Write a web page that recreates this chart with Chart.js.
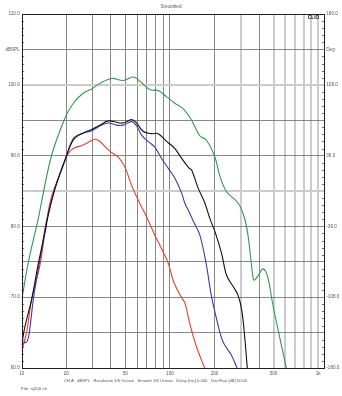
<!DOCTYPE html>
<html>
<head>
<meta charset="utf-8">
<script src="https://cdn.jsdelivr.net/npm/chart.js@4.4.1/dist/chart.umd.min.js"></script>
<style>
html,body{margin:0;padding:0;background:#fff;}
canvas{display:block;}
</style>
</head>
<body>
<canvas id="c" width="342" height="396"></canvas>
<script>
// ---- data ----
const xTickValues = [10,20,30,40,50,60,70,80,90,100,200,300,400,500,600,700,800,900,1000];
const xTickLabels = {10:'10',20:'20',50:'50',100:'100',200:'200',500:'500',1000:'1k'};
const xDarkGrid = [20,30,40,50,60,70,80,90,100,200,400];
const yTickValues = [60,65,70,75,80,85,90,95,100,105,110];
const yTickLabels = {110:'110.0',105:'dBSPL',100:'100.0',90:'90.0',80:'80.0',70:'70.0',60:'60.0'};
const yLightGrid = [100,85];
const y2TickValues = [-180,-144,-108,-72,-36,0,36,72,108,144,180];
const y2TickLabels = {180:'180.0',144:'Deg',108:'108.0',36:'36.0','-36':'-36.0','-108':'-108.0','-180':'-180.0'};

const greenFreq = [10,11.1,12.9,15.8,19.6,22.3,26,29.7,33.7,40.4,48.4,56.5,64.4,73.3,83.3,95,108,123,140,159,176,201,218,241,288,316,336,364,372,398,425,456,495,552,607,620];
const greenDb   = [69.6,75.0,81.0,89.8,95.3,97.4,98.8,99.4,100.2,100.9,100.6,101.1,100.3,99.3,99.2,98.3,97.4,96.6,95.0,92.8,92.2,89.8,87.0,84.9,83.3,81.4,78.8,72.7,72.4,73.2,74.0,72.9,68.9,64.2,60.2,59.0];

const blackFreq = [10,10.5,11.7,12.9,14.4,15.1,16.8,19.6,22.3,25.4,29.7,33.7,38.4,43.7,48.4,55.1,59.6,66.1,75,83.3,95,108,120,135,140,155,172,186,201,223,241,267,288,306,320,332,336];
const blackDb   = [63.2,65.8,69.8,74.6,79.3,81.6,85.4,89.4,92.2,93.1,93.7,94.3,94.9,94.7,94.6,95.1,94.6,93.4,93.1,93.1,92.0,91.0,89.6,88.2,88.0,85.4,83.3,81.1,79.3,76.2,73.1,71.5,70.3,68.0,64.2,60.2,59.0];

const blueFreq = [10,10.8,11.2,12.0,13.1,14.7,16.8,19.6,22.3,25.4,29.7,33.7,38.4,43.7,48.4,55.1,59.6,64.4,71.3,79,87.8,97.5,108,120,126,135,145,159,176,190,206,228,260,281,290];
const blueDb   = [63.5,63.7,64.7,69.8,74.6,80.7,85.4,89.4,92.4,93.1,93.5,94.2,94.6,94.3,94.3,94.8,94.2,92.9,92.0,91.2,89.6,88.2,86.8,84.7,83.3,82.0,80.6,78.8,74.6,70.3,67.0,63.7,61.8,60.2,59.5];

const redFreq = [10,10.8,11.7,13.3,14.7,15.9,18.6,20.6,22.3,26,31.2,33.7,36,39.4,44.8,49.7,55.1,61.2,69.4,79,90,97.5,105,117,126,136,151,170,175];
const redDb   = [62.3,65.1,69.8,74.6,80.7,84.2,88.0,90.3,91.0,91.5,92.3,92.0,91.4,90.6,89.8,88.4,85.8,83.7,81.4,78.8,76.4,74.8,72.4,70.3,69.2,66.3,63.0,60.2,59.5];

const titleText = 'Smoothed';
const brandText = 'CLIO';
const footerText = 'CH A   dBSPL   Resolution 1/6 Octave   Smooth 1/6 Octave   Delay [ms] 0.000   Dist Rise [dB] 50.00';
const fileText = 'File: nj200.sh';

// ---- build ----
function pts(f, d){ return f.map((v,i)=>({x:v,y:d[i]})); }
function ds(f,d,color){
  return {data:pts(f,d), borderColor:color, borderWidth:1.1, pointRadius:0, fill:false,
          tension:0.35, yAxisID:'y', xAxisID:'x'};
}
const FONT = '"Liberation Sans", Arial, sans-serif';
const TXT = '#555';

const decor = {
  id:'decor',
  afterDraw(chart){
    const c = chart.ctx, a = chart.chartArea, ys = chart.scales.y;
    c.save();
    c.strokeStyle = '#555'; c.lineWidth = 0.8;
    for (let v = 61; v < 110; v++){
      if (v % 5 === 0) continue;
      const y = Math.round(ys.getPixelForValue(v)) + 0.5;
      c.beginPath(); c.moveTo(a.left, y); c.lineTo(a.left + 2.5, y); c.stroke();
      c.beginPath(); c.moveTo(a.right, y); c.lineTo(a.right - 2.5, y); c.stroke();
    }
    c.strokeStyle = '#222'; c.lineWidth = 1;
    c.strokeRect(Math.round(a.left)+0.5, Math.round(a.top)+0.5, Math.round(a.right-a.left)-1, Math.round(a.bottom-a.top));
    c.fillStyle = TXT;
    c.font = '4.6px ' + FONT;
    c.textAlign = 'center'; c.textBaseline = 'middle';
    c.fillText(titleText, 171, 7);
    c.font = 'bold 4.8px ' + FONT;
    c.fillStyle = '#111';
    c.fillText(brandText, 313.5, 17.5);
    c.fillStyle = TXT;
    c.textAlign = 'left';
    c.font = '4px ' + FONT;
    let w = c.measureText(footerText).width;
    const fs = 4 * 184 / w;
    c.font = fs.toFixed(2) + 'px ' + FONT;
    c.fillText(footerText, 64, 381);
    c.font = '4.4px ' + FONT;
    c.fillText(fileText, 21, 388.5);
    c.restore();
  }
};

new Chart(document.getElementById('c'), {
  type:'line',
  data:{ datasets:[
    ds(greenFreq, greenDb, '#2f9a4c'),
    ds(blackFreq, blackDb, '#111111'),
    ds(blueFreq, blueDb, '#3d3aa8'),
    ds(redFreq, redDb, '#e4402a')
  ]},
  options:{
    responsive:false, animation:false, devicePixelRatio:1,
    layout:{padding:{top:14,left:0,right:0,bottom:0}},
    plugins:{legend:{display:false}, tooltip:{enabled:false}, title:{display:false}},
    scales:{
      x:{
        type:'logarithmic', min:10, max:1100,
        afterBuildTicks(s){ s.ticks = xTickValues.map(v=>({value:v})); },
        afterFit(s){ s.height = 28; },
        border:{display:false},
        grid:{
          drawTicks:false,
          color(c){ const v=c.tick&&c.tick.value; if(v===10) return 'rgba(0,0,0,0)'; return xDarkGrid.includes(v)?'#6a6a6a':'#cccccc'; },
          lineWidth(c){ const v=c.tick&&c.tick.value; return xDarkGrid.includes(v)?0.8:2; }
        },
        ticks:{
          autoSkip:false, maxRotation:0, padding:3, color:TXT,
          font:{size:4.6, family:FONT},
          callback(v){ return xTickLabels[v] || ''; }
        }
      },
      y:{
        position:'left', min:60, max:110,
        afterBuildTicks(s){ s.ticks = yTickValues.map(v=>({value:v})); },
        afterFit(s){ s.width = 21.7; },
        border:{display:false},
        grid:{
          drawTicks:false,
          color(c){ const v=c.tick&&c.tick.value; if(v===60||v===110) return 'rgba(0,0,0,0)'; return yLightGrid.includes(v)?'#cccccc':'#6a6a6a'; },
          lineWidth(c){ const v=c.tick&&c.tick.value; return yLightGrid.includes(v)?2:0.8; }
        },
        ticks:{ padding:2, color:TXT, font:{size:4.6, family:FONT}, autoSkip:false,
          callback(v){ return yTickLabels[v] || ''; } }
      },
      y2:{
        position:'right', min:-180, max:180,
        afterBuildTicks(s){ s.ticks = y2TickValues.map(v=>({value:v})); },
        afterFit(s){ s.width = 17.7; },
        border:{display:false},
        grid:{ drawOnChartArea:false, drawTicks:false },
        ticks:{ padding:2, color:TXT, font:{size:4.6, family:FONT}, autoSkip:false,
          callback(v){ return y2TickLabels[v] || ''; } }
      }
    }
  },
  plugins:[decor]
});
</script>
</body>
</html>
